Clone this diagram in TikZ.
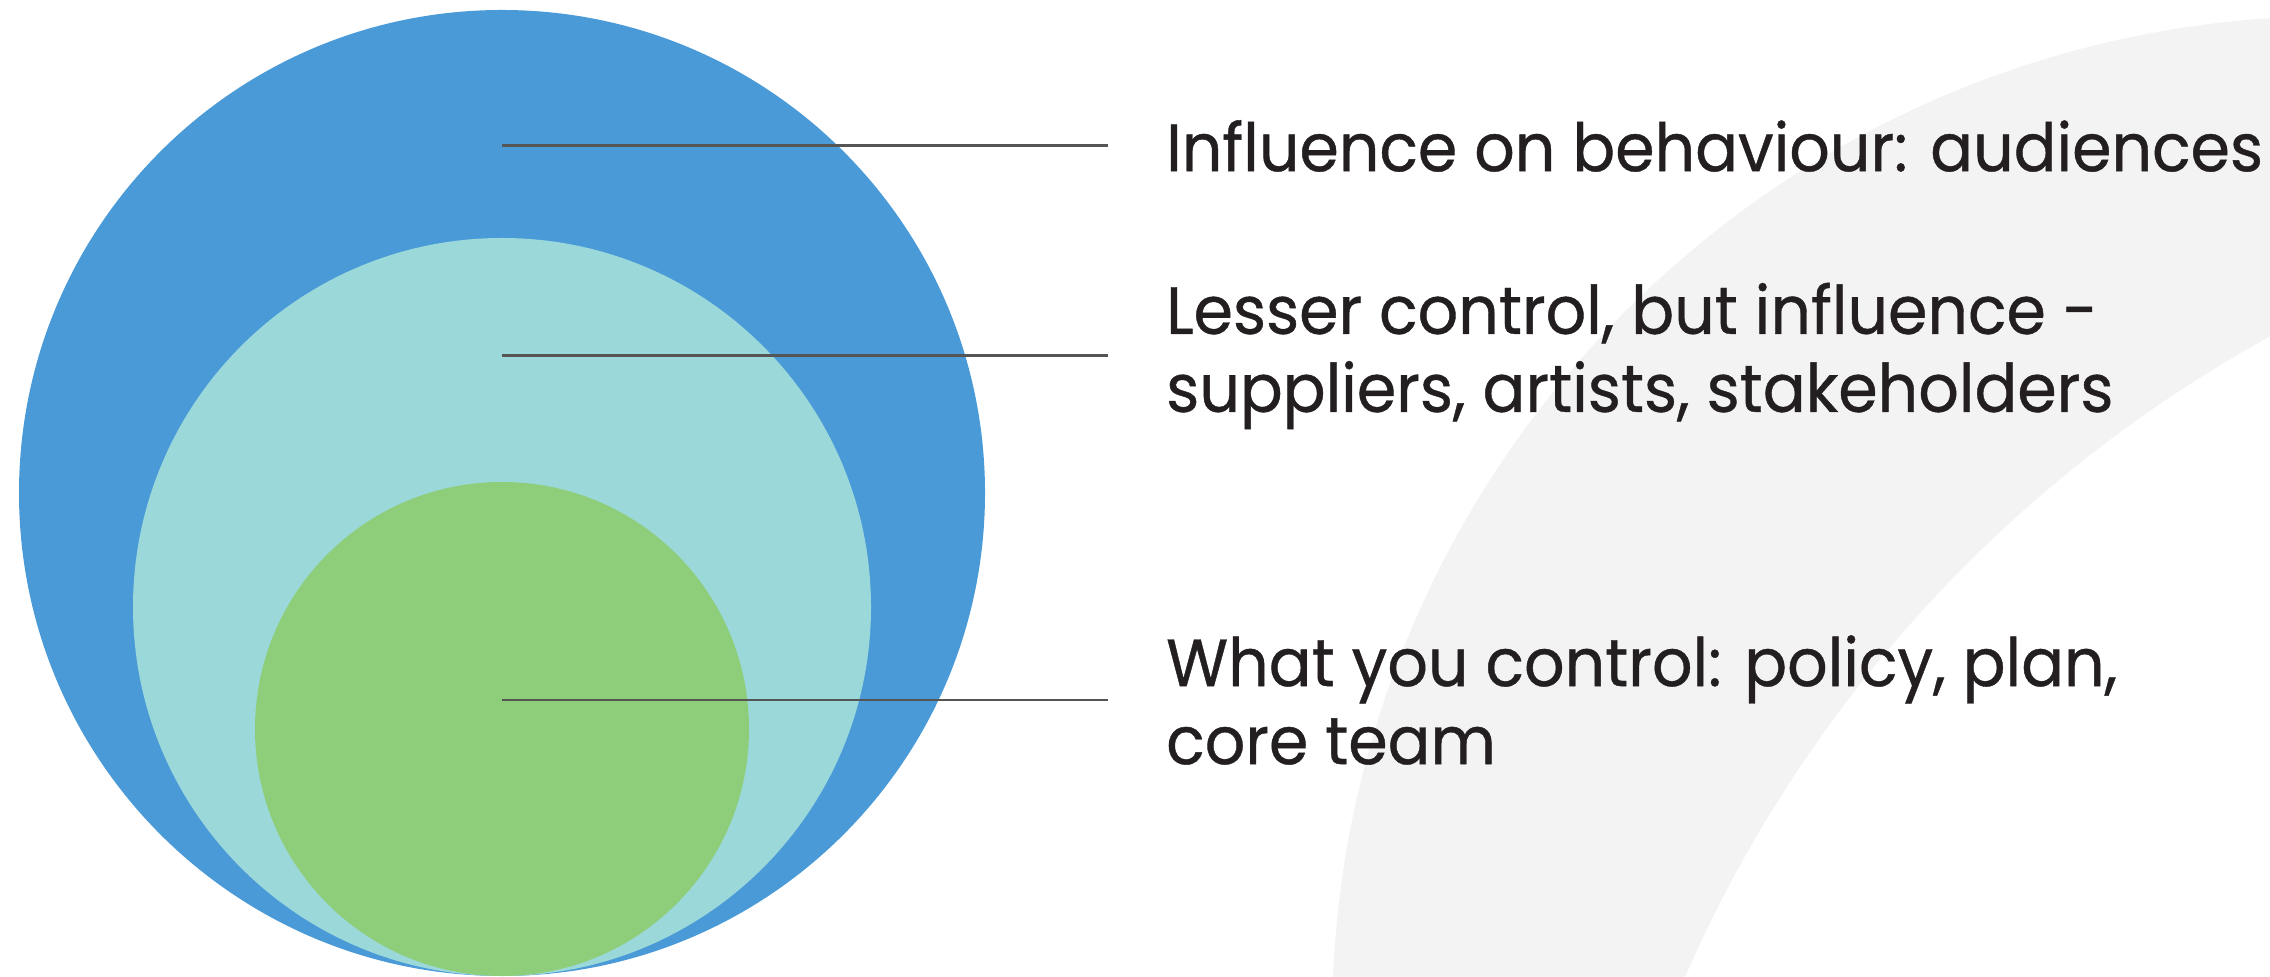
\documentclass[tikz,border=0pt]{standalone}
\usepackage{fontspec}
\newfontfamily\labelfont{Poppins}[FakeStretch=0.95, FakeBold=0.6]
\definecolor{outerblue}{HTML}{4A9AD8}
\definecolor{midteal}{HTML}{9BD8D9}
\definecolor{innergreen}{HTML}{8ECE7B}
\definecolor{linegray}{HTML}{555555}
\definecolor{textdark}{HTML}{231F20}
\definecolor{bgstroke}{HTML}{F3F3F3}
\begin{document}
\begin{tikzpicture}[
	ring/.style={circle, draw=none, inner sep=0pt},
	pin/.style={draw=linegray, line width=0.85pt, shorten >=0.575cm},
	caption/.style={anchor=west, align=left, inner sep=0pt, text=textdark,
		font=\labelfont\fontsize{19pt}{22.2pt}\selectfont}]
		
		\useasboundingbox (0,0) rectangle (22.70,9.76);
		
		%Background stroke
		\begin{scope}
		\clip (0,0) rectangle (22.70,9.76);
		\fill[bgstroke] (23.37,-0.45) circle (10.05);
		\fill[white] (29.14,-5.36) circle (13.40);
		\end{scope}
		
		%Nodes
		\node (outer) at (5.02,4.83) [ring, fill=outerblue, minimum size=9.66cm]{};
		
		\node (middle) at (5.02,3.69) [ring, fill=midteal, minimum size=7.38cm]{};
		
		\node (inner) at (5.02,2.47) [ring, fill=innergreen, minimum size=4.94cm]{};
		
		%Pins
		\coordinate (outerPin) at (5.02,8.30);
		\coordinate (middlePin) at (5.02,6.20);
		\coordinate (innerPin) at (5.02,2.76);
		
		%Names
		\node (outerText) at (11.655,8.30) [caption]{Influence on behaviour: audiences};
		
		\node (middleText) at (11.655,6.20) [caption]{Lesser control, but influence -\\
		suppliers, artists, stakeholders};
		
		\node (innerText) at (11.655,2.76) [caption]{What you control: policy, plan,\\
		core team};
		
		%Links
		\draw[pin] (outerPin) -- (outerText.west);
		
		\draw[pin] (middlePin) -- (middleText.west);
		
		\draw[pin] (innerPin) -- (innerText.west);
		\end{tikzpicture}
\end{document}
